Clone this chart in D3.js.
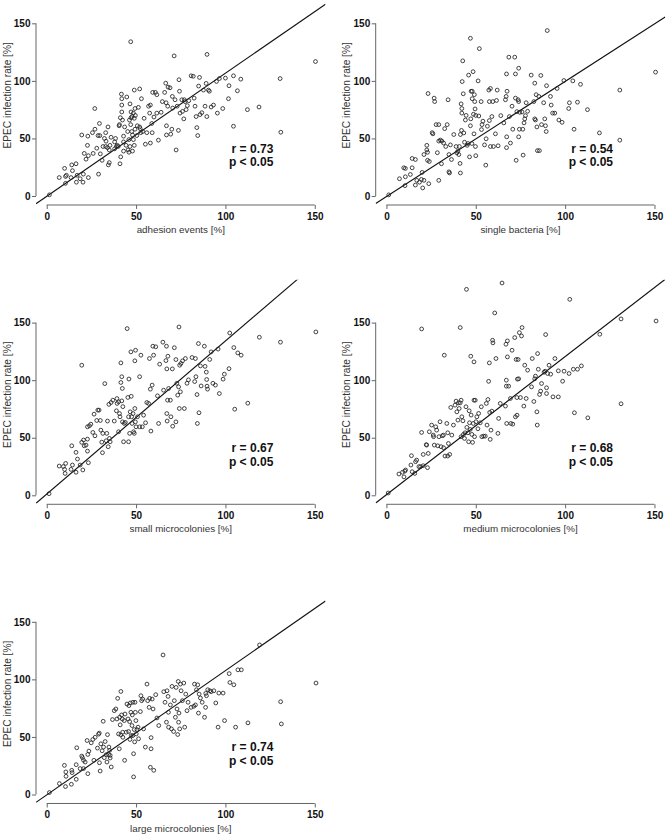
<!DOCTYPE html>
<html><head><meta charset="utf-8">
<script src="https://cdn.jsdelivr.net/npm/d3@7"></script>
<style>
html,body{margin:0;padding:0;background:#fff;}
svg{display:block;font-family:"Liberation Sans",Arial,sans-serif;}
</style></head>
<body>
<svg id="chart" width="670" height="839"></svg>
<script>
// ---------- data ----------
const adhesionEvents = [[1.5,1],[7,16],[10,24],[10.5,11],[11,18],[10.5,17],[14,27],[14.4,22],[13.6,16],[16.4,28],[16.6,12],[17,18],[18.7,15],[19.6,53],[20.5,19],[20.3,12],[21,37],[22,32],[22.8,44],[23,52],[23.3,35],[23.3,16],[26,37],[25.6,55],[26.9,76],[27,58],[28,41.5],[28.7,52.5],[29,19],[29.5,63],[29.7,52.5],[30,36.6],[31,31],[31.5,43],[32.3,50],[33,55],[33,43],[33.2,47.6],[34.3,60],[34,42],[34.5,27],[35,29],[35.4,44],[35,40],[36,51],[38,47],[38.5,50],[39,43],[39.5,44],[40,43],[40.7,62],[41.2,68],[40.5,61],[41,28],[41.4,34],[41.8,88.5],[42,84.5],[42,79],[42,73],[42.4,66],[43,52],[43,47],[43.6,60],[44.4,44],[44.8,86],[45.5,40],[46,38],[46,49],[46.6,80],[46.6,43],[47,134],[47,62],[47.2,73],[47.2,68],[47.8,69],[48,53],[48,39],[48.5,72],[48.5,49],[49,44],[49,92],[49.4,58],[49.4,76],[49.6,70],[50.4,52.5],[50.7,61],[51.3,77],[52,93],[52.3,58.5],[52.6,55],[53,84.5],[53.7,56],[54.5,67.5],[55.2,45],[56,55],[57,78],[57.6,72],[58,46],[58,79],[58.8,63],[59,55],[59.3,90],[60,68.6],[60.8,90],[61.6,88],[61.6,72],[62.5,48.5],[64,72.7],[64.7,82],[66,90],[66.6,98],[66.8,81],[67,61],[67,53],[67.9,94.6],[67.7,78],[69,94],[69.4,53.7],[70,58],[70.3,86.5],[70.5,76.4],[71.3,121.7],[71.8,83.6],[72.4,40],[73,78],[73.7,57],[74,101],[74.3,91],[74.6,72],[75.6,83.6],[76,73.5],[76.7,67],[77,83.6],[77.4,82],[78,75],[78.7,78.5],[79.5,82.8],[80.8,104.4],[82,104],[82.5,85],[83,78],[83.6,69],[84,59.4],[84.5,52.5],[85,95.5],[85.5,103],[85.8,70.7],[86.8,72.4],[87.7,92],[88.6,78],[89.2,97.8],[89.6,69],[89.7,123],[90.5,92],[91,91],[92,77.3],[93.3,79],[95,99.5],[95.5,72],[96.6,102],[98.5,76],[100,102.4],[101.7,84.5],[102,95.8],[104.5,104.4],[104.5,60.6],[106.7,91.4],[108.6,101.5],[112.3,75],[118.8,77.3],[130.6,102],[131,55.4],[150.4,116.8],[47.6,56],[46.3,66],[45.3,56],[49,67.5],[43,39],[38,41],[52,60]];

const singleBacteria = [[1.3,1],[7.3,15],[9.7,24.5],[10.6,24],[10.6,16.7],[10.4,9],[13.4,18.7],[14.4,32.6],[14.4,24.5],[16.2,31.7],[16.2,9.5],[17,13.6],[18.5,12],[19.6,14.4],[20,20.5],[20.3,7],[21,13.6],[21,36],[22.6,40],[22.6,44],[23,38],[23.3,89],[23,31],[23.7,10.7],[24,30],[25.6,55],[26,54],[26.7,85],[27,82],[27.8,62],[28.5,37.6],[29.3,13.6],[29.3,62],[29.3,47.7],[30.2,48.6],[30.8,28],[31,47.7],[32,46],[32.6,58.5],[33.2,43],[34,62],[34.5,83.6],[35,21],[35.3,20],[35,36],[35.8,44.4],[36.4,31.7],[37.7,53.4],[39,43],[39.4,37.5],[40,39],[40.5,36],[40.8,43],[41.4,53.4],[41.8,80],[42.2,76],[42.2,72],[41.2,28.3],[41.4,20],[42,57],[42.4,99.4],[42.7,117.4],[43,88.8],[43.3,54.8],[43.7,46.7],[44.2,66],[44.6,70],[45.2,44],[45.7,45.6],[46,105],[46.5,34],[47,137],[47,61],[47.2,67],[47.4,91],[47.8,45.6],[48,91],[48,84.5],[48.5,108],[48.7,71],[49,54],[49.2,88],[49.4,82],[49.6,75.6],[49.8,43],[50,70],[50,35],[51.3,100],[51.7,69.5],[52,128],[53,82],[53.2,57.7],[53.5,62],[54,65],[54.9,44.4],[55.6,26.8],[55.8,49.7],[56.5,60.6],[57.3,92],[57.6,65.5],[57.6,82],[58.2,93.4],[58.2,43],[59,69],[59.5,82],[59.9,43],[61,54],[61.6,83],[62,92],[62.5,43.6],[64,69.8],[65.7,63.5],[66.6,83.6],[67,86.5],[67.2,106],[67.3,51.4],[67.5,91],[67.2,42],[68.5,120.6],[68.8,69],[69.4,46],[70.3,78],[70.7,58],[71.8,120.6],[72.2,106],[72.2,85],[72.6,31],[73,73.3],[73.7,83.6],[74,111],[74,82],[74,51.4],[74.4,58],[74.6,72.7],[75.9,73],[76.3,58],[76.5,35.5],[77,63.5],[77.4,67],[77.8,69.8],[78.2,81],[79,73.6],[81,105],[82.5,82],[83,98],[83,67],[83.4,66],[83.8,88],[84.2,60],[84.5,39.4],[85.6,39.4],[85.3,86.5],[86.4,104.7],[86.8,62],[88,81],[88.6,67],[89,61],[89.4,56],[89.6,95.8],[90,143.7],[91.8,86.5],[92.2,79],[93,72],[94.2,72],[95.5,93.4],[96.5,66],[98.3,64],[99.3,100.3],[102,76],[102.4,81],[104.3,100],[105,58],[106.9,81.5],[108.6,97],[112.5,75],[119.2,54.8],[130.6,92],[130.6,48.5],[150.6,107.6]];

const smallMicrocolonies = [[1.3,1.4],[7,25.4],[9.3,25],[10,22.5],[10.6,27.7],[10.3,19],[13.6,22.5],[14,43],[14.4,26.3],[16.4,37.3],[16.4,20],[17.2,31.5],[18.7,26.3],[19.6,113],[20.2,22],[19.6,46],[20.6,48],[21,43],[22,43.6],[22.8,48.8],[22.8,38.4],[23.3,28.3],[22.8,59.5],[23.9,60.4],[24.7,61.8],[25.8,54.6],[26.5,70.5],[27,51.7],[28,65],[28.6,74],[29.3,74],[30,65],[30.3,56.6],[30.8,46.2],[31.4,53.8],[31.2,37],[32.5,97],[33.3,47.4],[33.6,53.8],[34,64.5],[34.4,42.2],[34.8,79],[35.1,49.4],[35.5,46.5],[36,80.6],[37,82.6],[37.8,64.5],[39,73.4],[39.3,84],[39.4,79.8],[40.2,81.2],[40.2,55.2],[40.7,71],[41,68.2],[41.5,98],[41.5,115],[42,82],[42,103],[42.3,92.8],[42.4,63.8],[42.6,77],[43,46.5],[43.4,62.4],[44,63.3],[45,144.8],[45.4,85],[45.8,68.2],[45.8,46.5],[46,101],[46.4,53.8],[46.7,72.5],[47.1,124.6],[47.3,86],[47.5,68.2],[47.8,62.4],[48.3,71],[48.6,55.2],[49,53.8],[49.3,116.8],[49.7,126],[49.6,63.8],[49.3,75.4],[50,59.5],[50.8,68.2],[52,103],[52,59.5],[52.7,121.7],[53.5,59.5],[54.2,69.6],[55.3,63],[56,80.6],[57,79.8],[57.5,118.8],[58,92.2],[58.3,55.8],[59,95.7],[59.4,129.5],[59.8,121.7],[61,129],[62,86.4],[62.6,62.4],[63.2,113.9],[65,133],[65.4,91.3],[66.7,117],[67,129.5],[67.2,109.8],[67.2,71],[67.4,64.5],[67.6,82.6],[67.8,120.8],[68.2,92.8],[69.2,82.6],[69.5,68.2],[70.3,109.8],[70.5,60],[71.4,128.2],[72.3,117.9],[72.3,63.8],[72.8,97.3],[73.3,87],[73.8,94.2],[74,146.2],[74.2,75.4],[74.4,113],[74.8,89.9],[75.1,114.5],[76,116.8],[77,75.4],[77.6,118.8],[78.5,97.3],[79.3,100.3],[81.3,119.7],[82.8,98.8],[83.2,118.8],[83.5,103],[84.1,87.5],[84.3,62.4],[84.9,131.8],[85.2,71.7],[86,112.4],[86.4,95],[88.2,129.5],[88.6,112],[89.3,107],[89.5,100.6],[89.7,94.8],[90,92.2],[91.2,118],[92,124.6],[93,97.3],[94.4,95.7],[95.9,127],[96.6,88.4],[98.7,100.9],[99.4,105.2],[102,110],[102.4,141],[104.7,128.3],[105.2,74.8],[106.9,123.7],[108.8,121.7],[112.5,80],[119,137.3],[130.8,133],[150.6,141.9]];

const mediumMicrocolonies = [[1,2],[7,18.5],[9,20],[9.8,16],[10.3,21],[10.7,22],[13.7,26.3],[14,34.4],[14.4,20.5],[15.9,19],[16.3,29.2],[16.9,30.6],[18.2,24.9],[19.1,24.9],[19.7,54.6],[19.7,144.5],[20.6,25.7],[20.6,35.5],[22.5,43.6],[22.3,44],[23,24],[23.4,36.4],[24,55.2],[25.3,61],[26.2,52.3],[26.4,50.9],[26.8,43.6],[27.6,59.5],[28.1,56.6],[28.7,43],[29.4,50.9],[30,63.9],[30.6,42.2],[31.3,51.7],[31.9,52.3],[32,41.3],[32.4,121.7],[32.8,34.1],[33.8,62.4],[34.3,54.3],[34.3,34.1],[34.7,45],[35.4,35.5],[36,76.3],[36.6,52.3],[37.5,61],[38.4,78.3],[39,81.8],[39.4,72.5],[40,65.3],[40.3,80.3],[40.7,75.4],[41.3,145.7],[41.3,80.3],[41.8,82.6],[41.8,50.9],[42.2,68.2],[42.8,64.7],[43.1,52.9],[43.7,49.4],[44,54.3],[44.5,76.9],[44.8,178.9],[45,59],[45.6,54.3],[46,46.5],[46.3,73.4],[46.5,63],[46.9,57.2],[47.2,120.8],[47.4,69.7],[47.8,52.9],[48.2,46],[48.6,62.4],[49,115.9],[49,82.6],[49.3,50.9],[49.7,82.6],[50.1,63.9],[50.6,68.2],[51.2,57.8],[51.6,71.1],[52.5,63],[53.1,76.9],[53.4,50.9],[54.4,51.4],[55.3,51.4],[55.9,79.8],[56.3,61],[56.8,83.2],[57.2,99],[57.6,115],[57.8,72],[58.1,48.6],[58.5,56.6],[59,73.1],[59.4,134.7],[59.6,132.4],[60.6,158.4],[61.3,118.8],[62.4,53.8],[62.8,66.8],[63.7,79.8],[64.7,184.4],[66.6,77.5],[66.9,131.2],[67.1,100],[67.1,94.8],[67.3,62.4],[67.7,134.1],[67.7,120.2],[68.4,94.8],[69.4,84.1],[69.6,62.4],[70.3,126],[70.7,61.8],[71.8,137],[72.2,68.2],[72.6,118],[73,84.9],[73.1,69.6],[73.3,100.9],[73.7,118],[74,101.2],[74.4,141.3],[75,84.9],[75.6,138.4],[75.9,145.7],[76.9,77.5],[77.4,113],[78.2,84.1],[79,108.7],[81.2,94.2],[81.6,118.8],[82.5,81.5],[83,101.2],[83.4,103.5],[84.2,72.5],[84.4,61],[84.6,123.1],[85,109.5],[85.7,87.6],[86.3,90.5],[86.8,97.1],[88.2,106.9],[88.8,107.8],[89.1,139.6],[89.6,93.4],[89.6,88.4],[90.2,105.8],[91,113],[91.9,105.2],[93.2,85.5],[94.3,118.8],[96.2,108.1],[96.2,85.5],[98.6,99.1],[99.4,107.8],[102.2,105.8],[102.6,170.2],[104.6,109.5],[105.2,71.7],[106.9,109.5],[109.1,112.4],[112.7,67.3],[119.4,139.9],[131.3,153.2],[131.3,79.5],[150.9,151.4]];

const largeMicrocolonies = [[1.5,1.7],[7.1,9.5],[9.9,25.3],[10.7,19.6],[10.8,15.8],[10.5,6.9],[14,21],[14.2,19],[13.8,8.9],[16.5,25.9],[16.8,40.6],[16.5,13.2],[18.7,22.5],[19.6,33.4],[20,32],[20.6,29.7],[20.6,22.5],[21.5,28.2],[22.6,46.9],[23,18.1],[23,34.8],[23.6,37.7],[24.9,44.9],[25.8,47.8],[26.4,29.7],[27.1,49.7],[28.4,40.3],[29,52.4],[29.4,53.3],[29.5,27.6],[29.9,20.4],[30.3,44],[31,38],[31.6,63.6],[31.8,41.2],[32.2,32],[32.7,46],[33.3,34.6],[33.7,28.2],[34,52],[34.6,34.6],[34.8,41.2],[35.2,38.3],[35.5,34],[35.5,31.7],[36.1,23.9],[36.8,65.1],[37.8,72.8],[38.7,74.3],[39.3,65.6],[39.7,83.5],[40.2,52.6],[40.6,39.7],[40.8,67.1],[41.1,60.5],[41.5,89.5],[41.5,51.8],[41.9,69.1],[42.3,65.6],[42.5,54.1],[42.6,49.7],[43.4,64.2],[43.6,29.7],[43.8,69.9],[44.5,54.1],[44.9,78.6],[45.5,65.6],[45.8,54.7],[46,77.2],[46.4,63.3],[46.6,47.8],[46.8,79.5],[47.1,71.4],[47.3,51.2],[47.7,59.9],[47.9,69.1],[48.2,80.1],[48.2,51.2],[48.6,35.4],[48.6,15.3],[49,56.4],[49.2,45.7],[49.4,80.1],[49.6,71.4],[49.9,64.2],[50.1,52.6],[50.5,56.4],[51.1,58.5],[51.4,48.4],[52.4,72],[52.7,85.8],[53.1,81.5],[53.7,82.9],[54.2,57],[55.2,41.2],[56.1,95.9],[56.5,81.5],[57.3,75.7],[57.6,83.5],[58,23.6],[58.4,49.4],[58.4,39.7],[59,82.9],[59.5,74.3],[59.9,21],[61,86.7],[61.7,66.5],[62.7,59.9],[65.1,121.2],[65.5,89.3],[66.2,80.1],[67,62.8],[67.3,90.1],[67.9,85.2],[68.1,71.4],[68.2,58.5],[69.2,77.8],[69.8,57],[70.1,93.9],[71,54.7],[71.4,81.5],[72,67.1],[72.4,93],[72.9,74.3],[73.3,52.1],[73.6,98.2],[73.8,62.8],[74,70.7],[74.4,57],[74.8,95.9],[75.2,90.1],[75.9,81.5],[76.7,96.8],[77.2,58.5],[77.8,87.2],[78.5,72.8],[79.1,80.1],[80.8,75.7],[82.3,76.6],[82.7,95.9],[83.2,77.8],[83.8,91],[84.5,95.3],[84.9,70.7],[85.3,87.2],[86,83.8],[87,80.1],[88.3,67.1],[88.9,75.7],[89,87.8],[89.4,85.8],[90.1,91],[91.3,90.1],[92,89.3],[93.5,90.1],[94.6,79.5],[95.9,58.5],[96.3,88.1],[98.7,88.1],[99.5,64.2],[102.1,105],[102.5,97.3],[104.7,95.3],[105.7,58.5],[107,108.3],[108.9,108.3],[112.6,62.2],[119.1,129.9],[130.9,80.6],[131.3,61.3],[150.7,96.8]];

const seriesData = [adhesionEvents, singleBacteria, smallMicrocolonies, mediumMicrocolonies, largeMicrocolonies];
const xTitles = ["adhesion events [%]", "single bacteria [%]", "small microcolonies [%]", "medium microcolonies [%]", "large microcolonies [%]"];
const yTitle = "EPEC infection rate [%]";
const rValues = ["0.73", "0.54", "0.67", "0.68", "0.74"];
const pText = "p < 0.05";
const fitSlope = [1.07, 1.00, 1.33, 1.20, 1.08];
const fitIntercept = [-0.3, -0.5, 1.0, 0.5, -0.4];
const tickValues = [0, 50, 100, 150];
const xDomain = [-6, 156];
const yDomain = [-7.2, 187.2];

// ---------- layout ----------
const colLeft = [36, 375.7];
const rowZero = [196, 495.3, 794.5];
const plotW = 289.5, plotH = 223.8;
const pxPerY = plotH / (yDomain[1] - yDomain[0]);

const svg = d3.select("#chart");
const defs = svg.append("defs");

seriesData.forEach((data, i) => {
  const col = i % 2, row = Math.floor(i / 2);
  const left = colLeft[col];
  const bottom = rowZero[row] - yDomain[0] * pxPerY;
  const top = bottom - plotH;
  const x = d3.scaleLinear().domain(xDomain).range([left, left + plotW]);
  const y = d3.scaleLinear().domain(yDomain).range([bottom, top]);
  const g = svg.append("g");

  // clip for regression line
  const clipId = "clip" + i;
  defs.append("clipPath").attr("id", clipId)
    .append("rect").attr("x", left).attr("y", top).attr("width", plotW).attr("height", plotH);

  // y axis (R style)
  const ya = g.append("g").attr("transform", `translate(${left},0)`)
    .call(d3.axisLeft(y).tickValues(tickValues).tickSize(4).tickPadding(1.5));
  ya.select(".domain").remove();
  ya.append("line").attr("x1", 0).attr("x2", 0).attr("y1", y(0)).attr("y2", y(150))
    .attr("stroke", "#666").attr("stroke-width", 1);
  ya.selectAll(".tick line").attr("stroke", "#666");
  ya.selectAll(".tick text").attr("fill", "#111").attr("font-size", 10).attr("font-weight", "bold")
    .attr("font-family", "Liberation Sans, Arial, sans-serif");

  // x axis
  const xa = g.append("g").attr("transform", `translate(0,${bottom + 0.7})`)
    .call(d3.axisBottom(x).tickValues(tickValues).tickSize(4).tickPadding(3.5));
  xa.select(".domain").remove();
  xa.append("line").attr("x1", x(0)).attr("x2", x(150)).attr("y1", 0).attr("y2", 0)
    .attr("stroke", "#666").attr("stroke-width", 1);
  xa.selectAll(".tick line").attr("stroke", "#666");
  xa.selectAll(".tick text").attr("fill", "#111").attr("font-size", 10).attr("font-weight", "bold")
    .attr("font-family", "Liberation Sans, Arial, sans-serif");

  // axis titles
  g.append("text").attr("x", left + plotW / 2).attr("y", rowZero[row] + 37)
    .attr("text-anchor", "middle").attr("font-size", 9.8).attr("fill", "#333").text(xTitles[i]);
  g.append("text").attr("transform", `translate(${left - 25.5},${(top + bottom) / 2 + 3}) rotate(-90)`)
    .attr("text-anchor", "middle").attr("font-size", 10.2).attr("fill", "#333").text(yTitle);

  // regression line
  g.append("line").attr("clip-path", `url(#${clipId})`)
    .attr("x1", x(xDomain[0])).attr("y1", y(fitSlope[i] * xDomain[0] + fitIntercept[i]))
    .attr("x2", x(xDomain[1])).attr("y2", y(fitSlope[i] * xDomain[1] + fitIntercept[i]))
    .attr("stroke", "#111").attr("stroke-width", 1.1);

  // points
  g.append("g").selectAll("circle").data(data).join("circle")
    .attr("cx", d => x(d[0])).attr("cy", d => y(d[1])).attr("r", 1.9)
    .attr("fill", "none").attr("stroke", "#222").attr("stroke-width", 0.85);

  // statistics
  const sx = x(0) + 226.6;
  g.append("text").attr("x", sx).attr("y", rowZero[row] - 43.4).attr("text-anchor", "end")
    .attr("font-size", 12).attr("font-weight", "bold").attr("fill", "#111").text("r = " + rValues[i]);
  g.append("text").attr("x", sx).attr("y", rowZero[row] - 29.8).attr("text-anchor", "end")
    .attr("font-size", 12).attr("font-weight", "bold").attr("fill", "#111").text(pText);
});
</script>
</body></html>
